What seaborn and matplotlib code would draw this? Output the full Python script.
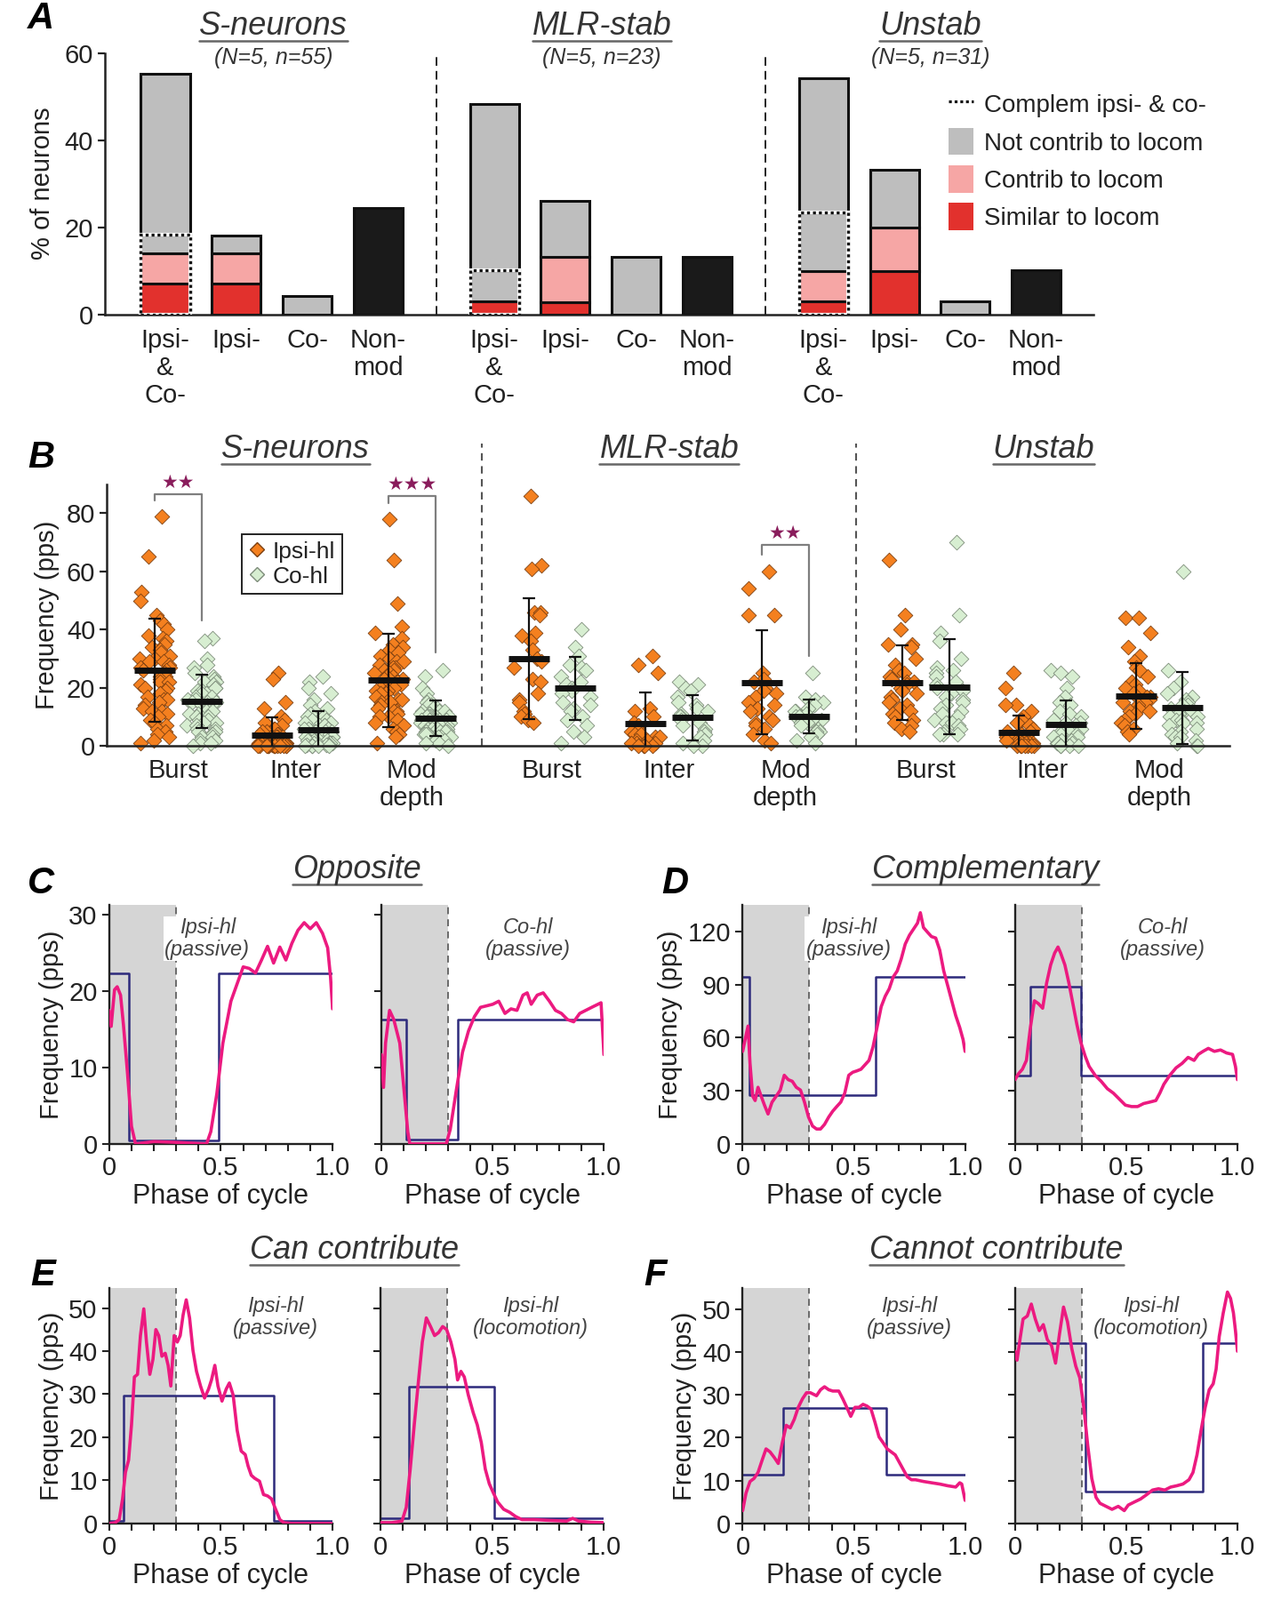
import numpy as np
import pandas as pd
import matplotlib
matplotlib.use("Agg")
import matplotlib.pyplot as plt
from matplotlib.lines import Line2D
from matplotlib.patches import Patch
import seaborn as sns

sns.set_style("ticks")
plt.rcParams["font.family"] = ["Liberation Sans", "DejaVu Sans"]
for k in ["text.color", "axes.labelcolor", "xtick.color", "ytick.color", "axes.edgecolor"]:
    plt.rcParams[k] = "#222222"

# ---------------------------------------------------------------- data A
groups_A = ["S-neurons", "MLR-stab", "Unstab"]
subtitles_A = ["(N=5, n=55)", "(N=5, n=23)", "(N=5, n=31)"]
cats_A = ["Ipsi-\n&\nCo-", "Ipsi-", "Co-", "Non-\nmod"]
similar_A = [7.0, 7.0, 0, 0, 3.0, 2.8, 0, 0, 3.0, 10.0, 0, 0]
contrib_A = [7.0, 7.0, 0, 0, 0, 10.3, 0, 0, 7.0, 10.0, 0, 0]
notcontrib_A = [4.2, 4.0, 4.1, 0, 7.2, 13.0, 13.2, 0, 13.3, 13.2, 3.0, 0]
noncompl_A = [37.1, 0, 0, 0, 38.1, 0, 0, 0, 30.9, 0, 0, 0]
nonmod_A = [0, 0, 0, 24.4, 0, 0, 0, 13.2, 0, 0, 0, 10.2]
legend_A = ["Complem ipsi- & co-", "Not contrib to locom", "Contrib to locom", "Similar to locom"]

# ---------------------------------------------------------------- data B
groups_B = ["S-neurons", "MLR-stab", "Unstab"]
measures_B = ["Burst", "Inter", "Mod\ndepth"]
s_burst_ipsi = [79, 65, 53, 50, 45, 43, 42, 40, 38, 37, 36, 35, 34, 33, 32, 31, 30, 30, 29, 29, 28, 27, 27, 26, 26,
                25, 24, 24, 23, 22, 22, 21, 20, 20, 19, 18, 17, 16, 16, 15, 14, 13, 12, 12, 11, 10, 9, 8, 7, 6, 5, 4, 3, 2, 1]
s_burst_co = [37, 36, 30, 28, 27, 25, 24, 23, 22, 22, 21, 20, 20, 19, 19, 18, 18, 17, 17, 16, 16, 15, 15, 15, 14, 14,
              14, 13, 13, 12, 12, 12, 11, 11, 10, 10, 9, 9, 8, 8, 7, 7, 6, 6, 5, 5, 4, 4, 3, 3, 2, 2, 1, 1, 0]
s_inter_ipsi = [25, 23, 15, 13, 10, 9, 8, 7, 6, 6, 5, 5, 4, 4, 4, 3, 3, 3, 3, 2, 2, 2, 2, 2, 2, 1, 1, 1, 1, 1, 1, 1, 1,
                1, 0.5, 0.5, 0.5, 0.5, 0.4, 0.3, 0.3, 0.2, 0.2, 0.1, 0.1, 0, 0, 0, 0, 0, 0, 0, 0, 0, 0]
s_inter_co = [24, 22, 20, 18, 16, 14, 13, 12, 11, 10, 10, 9, 9, 8, 8, 7, 7, 7, 6, 6, 6, 5, 5, 5, 5, 4, 4, 4, 4, 3, 3, 3,
              3, 3, 2, 2, 2, 2, 2, 2, 1, 1, 1, 1, 1, 1, 1, 0.5, 0.5, 0.3, 0, 0, 0, 0, 0]
s_mod_ipsi = [78, 64, 49, 41, 39, 37, 35, 34, 33, 32, 31, 30, 29, 29, 28, 27, 27, 26, 26, 25, 25, 24, 24, 23, 23, 22,
              22, 21, 21, 20, 20, 19, 19, 18, 18, 17, 16, 16, 15, 15, 14, 13, 12, 12, 11, 10, 10, 9, 8, 7, 6, 5, 4, 3, 1]
s_mod_co = [26, 24, 20, 18, 16, 15, 14, 14, 13, 13, 12, 12, 12, 11, 11, 11, 10, 10, 10, 10, 10, 9, 9, 9, 9, 9, 8, 8,
            8, 8, 8, 7, 7, 7, 7, 7, 6, 6, 6, 6, 5, 5, 5, 5, 4, 4, 4, 3, 3, 3, 2, 2, 1, 1, 0]
m_burst_ipsi = [86, 62, 61, 46, 46, 45, 39, 38, 36, 33, 30, 29, 27, 23, 22, 18, 16, 15, 12, 11, 10, 9, 8]
m_burst_co = [40, 34, 31, 28, 27, 26, 24, 22, 21, 20, 19, 18, 17, 15, 14, 13, 12, 10, 9, 7, 5, 3, 1]
m_inter_ipsi = [31, 28, 25, 13, 12, 10, 8, 7, 6, 5, 4, 4, 3, 3, 2, 2, 1, 1, 1, 0, 0, 0, 0]
m_inter_co = [22, 21, 20, 19, 17, 15, 14, 13, 12, 11, 10, 10, 9, 8, 7, 6, 5, 4, 3, 2, 1, 0, 0]
m_mod_ipsi = [60, 54, 45, 45, 25, 23, 22, 20, 19, 18, 17, 15, 14, 13, 12, 10, 9, 8, 7, 6, 4, 2, 1]
m_mod_co = [25, 17, 16, 15, 14, 13, 12, 12, 11, 10, 10, 9, 9, 8, 8, 7, 6, 5, 5, 4, 3, 2, 1]
u_burst_ipsi = [64, 45, 40, 35, 35, 34, 30, 28, 26, 25, 24, 23, 22, 22, 21, 20, 19, 18, 17, 16, 15, 14, 13, 12, 11,
                10, 9, 8, 7, 6, 5]
u_burst_co = [70, 45, 39, 36, 30, 27, 26, 25, 24, 22, 21, 20, 19, 18, 17, 16, 15, 14, 13, 12, 11, 10, 9, 8, 8, 7, 6,
              5, 4, 4, 4]
u_inter_ipsi = [25, 20, 14, 14, 12, 10, 9, 8, 7, 6, 5, 5, 4, 4, 3, 3, 3, 2, 2, 2, 1, 1, 1, 1, 0, 0, 0, 0, 0, 0, 0]
u_inter_co = [26, 25, 24, 20, 17, 15, 14, 12, 11, 10, 9, 8, 8, 7, 6, 6, 5, 5, 4, 4, 3, 3, 2, 2, 1, 1, 1, 0, 0, 0, 0]
u_mod_ipsi = [44, 44, 39, 34, 31, 29, 27, 26, 24, 22, 21, 20, 19, 18, 17, 17, 16, 15, 15, 14, 13, 12, 12, 11, 10, 9,
              8, 7, 6, 5, 4]
u_mod_co = [60, 26, 22, 20, 18, 17, 16, 15, 14, 14, 13, 12, 12, 11, 11, 10, 10, 9, 9, 8, 8, 7, 6, 5, 4, 3, 3, 2, 1,
            0, 0]
ipsi_B = [[s_burst_ipsi, s_inter_ipsi, s_mod_ipsi], [m_burst_ipsi, m_inter_ipsi, m_mod_ipsi],
          [u_burst_ipsi, u_inter_ipsi, u_mod_ipsi]]
co_B = [[s_burst_co, s_inter_co, s_mod_co], [m_burst_co, m_inter_co, m_mod_co],
        [u_burst_co, u_inter_co, u_mod_co]]
mean_ipsi_B = [[26.1, 3.6, 22.6], [29.9, 7.7, 21.9], [21.7, 4.6, 17.2]]
sd_ipsi_B = [[17.7, 6.2, 16.1], [20.8, 10.7, 18.0], [12.9, 5.9, 11.4]]
mean_co_B = [[15.3, 5.4, 9.5], [19.8, 9.7, 10.0], [20.3, 7.5, 13.1]]
sd_co_B = [[9.2, 6.5, 6.2], [10.8, 7.8, 5.8], [16.4, 8.0, 12.3]]
# (group, measure, bracket top, left leg end, right leg end, stars)
sig_B = [(0, 0, 86.7, 84.5, 43.0, "★★"), (0, 2, 86.0, 83.5, 32.0, "★★★"), (1, 2, 69.2, 65.8, 31.0, "★★")]

# ---------------------------------------------------------------- data C-F
c1_phase = [0, 0.009, 0.024, 0.036, 0.051, 0.064, 0.082, 0.1, 0.118, 0.2, 0.3, 0.436, 0.455, 0.482, 0.509, 0.545,
            0.573, 0.6, 0.627, 0.655, 0.682, 0.709, 0.736, 0.764, 0.791, 0.818, 0.845, 0.873, 0.9, 0.927, 0.955,
            0.978, 0.991, 1.0]
c1_freq = [17.5, 15.4, 20.2, 20.6, 19.5, 15.6, 9.3, 2.3, 0, 0.3, 0.2, 0, 1.6, 6.6, 13.2, 18.7, 21, 23.2, 23, 22.4,
           24.1, 25.9, 23.7, 25.8, 24.1, 26.3, 28, 29, 28.2, 29, 27.6, 25.7, 21.8, 17.7]
c1_step_x, c1_step_y = [0, 0.088, 0.49, 1.0], [22.3, 0.5, 22.3, 22.3]
c2_phase = [0, 0.009, 0.018, 0.036, 0.055, 0.082, 0.1, 0.118, 0.127, 0.291, 0.309, 0.336, 0.364, 0.391, 0.418,
            0.445, 0.473, 0.5, 0.527, 0.555, 0.582, 0.609, 0.636, 0.655, 0.673, 0.7, 0.727, 0.755, 0.782, 0.809,
            0.836, 0.864, 0.891, 0.918, 0.945, 0.973, 0.987, 1.0]
c2_freq = [11.7, 7.4, 13.2, 17.5, 16.3, 13.2, 7.4, 1.6, 0, 0, 1.9, 7, 12, 14.8, 16.7, 17.9, 18.1, 18.3, 18.7, 17.1,
           17.7, 17.5, 19.5, 19.8, 18.3, 19.5, 19.8, 18.7, 17.5, 17.1, 16.3, 16, 17.1, 17.5, 17.9, 18.3, 18.5, 11.7]
c2_step_x, c2_step_y = [0, 0.11, 0.343, 1.0], [16.3, 0.6, 16.3, 16.3]
d1_phase = [0, 0.011, 0.024, 0.033, 0.045, 0.056, 0.069, 0.083, 0.098, 0.114, 0.132, 0.151, 0.169, 0.187, 0.205,
            0.223, 0.241, 0.26, 0.278, 0.296, 0.314, 0.332, 0.35, 0.368, 0.387, 0.405, 0.423, 0.441, 0.459, 0.477,
            0.495, 0.514, 0.532, 0.55, 0.568, 0.586, 0.604, 0.623, 0.641, 0.659, 0.677, 0.695, 0.713, 0.731, 0.75,
            0.768, 0.786, 0.799, 0.813, 0.831, 0.849, 0.868, 0.886, 0.904, 0.922, 0.94, 0.958, 0.976, 0.991, 1.0]
d1_freq = [52.3, 59, 66.6, 45.5, 27, 24.5, 32, 27, 21.9, 16.9, 23.6, 27, 30.4, 38.8, 36.3, 35.4, 32, 30.4, 23.6, 15.2,
           10.1, 8.4, 8.4, 11, 15.2, 18.5, 21.1, 23.6, 28.7, 38.8, 40.5, 41.3, 42.2, 44.7, 47.2, 54.8, 65.8, 77.6,
           83.5, 87.7, 94.4, 97.8, 104.6, 113, 118, 121.4, 124.8, 130.7, 122.3, 119.7, 117.2, 116.4, 109.6, 97.8,
           89.4, 80.9, 72.5, 65.8, 59, 52.3]
d1_step_x, d1_step_y = [0, 0.03, 0.597, 1.0], [94.5, 27.5, 94.5, 94.5]
d2_phase = [0, 0.015, 0.033, 0.051, 0.069, 0.087, 0.105, 0.124, 0.142, 0.16, 0.178, 0.193, 0.205, 0.224, 0.242,
            0.26, 0.278, 0.296, 0.315, 0.333, 0.36, 0.387, 0.415, 0.442, 0.469, 0.496, 0.524, 0.551, 0.578, 0.605,
            0.633, 0.651, 0.669, 0.696, 0.724, 0.751, 0.778, 0.805, 0.824, 0.845, 0.869, 0.896, 0.924, 0.951, 0.978,
            0.991, 1.0]
d2_freq = [36.3, 39.6, 42.2, 47.2, 65.8, 80.9, 79.3, 76.7, 91, 101.2, 107.9, 111.3, 107.9, 101.2, 91, 79.3, 67.5,
           57.3, 49.7, 43.8, 38.8, 35.4, 31.2, 28.7, 25.3, 21.9, 21.1, 21.1, 22.8, 23.6, 24.5, 28.7, 33.7, 38.8, 43,
           45.5, 48.9, 47.2, 50.6, 52.3, 54, 52.3, 53.1, 51.4, 50.6, 43.8, 36.3]
d2_step_x, d2_step_y = [0, 0.07, 0.296, 1.0], [38.5, 89, 38.5, 38.5]
e1_phase = [0, 0.027, 0.045, 0.06, 0.073, 0.087, 0.1, 0.113, 0.127, 0.14, 0.155, 0.167, 0.182, 0.196, 0.209, 0.222,
            0.236, 0.251, 0.264, 0.276, 0.291, 0.305, 0.318, 0.331, 0.345, 0.36, 0.375, 0.391, 0.409, 0.427, 0.445,
            0.458, 0.473, 0.487, 0.505, 0.524, 0.538, 0.555, 0.573, 0.591, 0.609, 0.622, 0.636, 0.651, 0.673, 0.691,
            0.709, 0.727, 0.742, 0.764, 0.782, 0.818, 1.0]
e1_freq = [0, 0.2, 0.9, 5.7, 11.9, 14.7, 22.9, 34, 34.6, 43.6, 49.8, 42.1, 34.6, 38.1, 45, 43.6, 38.8, 39.5, 36.7,
           31.9, 43.6, 42.1, 43.6, 48.4, 51.9, 47.7, 40.2, 35.3, 31.9, 29.1, 31.2, 33.3, 36.7, 31.9, 28.4, 31.2, 32.6,
           29.8, 21.6, 16.8, 16, 13.3, 11.2, 10.5, 9.8, 6.7, 6.4, 5.7, 3.7, 0.9, 0.2, 0, 0]
e1_step_x, e1_step_y = [0, 0.066, 0.736, 1.0], [0.5, 29.7, 0.5, 0.5]
e2_phase = [0, 0.051, 0.096, 0.115, 0.133, 0.151, 0.169, 0.187, 0.205, 0.224, 0.242, 0.26, 0.278, 0.296, 0.315,
            0.333, 0.345, 0.36, 0.375, 0.393, 0.415, 0.433, 0.451, 0.469, 0.487, 0.505, 0.524, 0.551, 0.578, 0.605,
            0.633, 0.687, 0.76, 0.833, 0.86, 0.887, 0.942, 1.0]
e2_freq = [0.2, 0.2, 0.55, 3.7, 12.6, 22.9, 32.6, 42.1, 47.7, 45.7, 43.6, 44.3, 45.7, 45, 42.1, 38.1, 33.3, 35.3, 34,
           29.8, 25.7, 22.9, 18.8, 12.6, 9.2, 7.1, 5, 3.3, 2.6, 1.6, 0.9, 0.9, 0.7, 0.55, 1.2, 0.55, 0.3, 0.2]
e2_step_x, e2_step_y = [0, 0.129, 0.509, 1.0], [1.2, 31.7, 1.2, 1.2]
f1_phase = [0, 0.015, 0.033, 0.051, 0.069, 0.087, 0.105, 0.123, 0.142, 0.16, 0.178, 0.196, 0.214, 0.232, 0.25,
            0.269, 0.287, 0.305, 0.332, 0.35, 0.368, 0.387, 0.405, 0.432, 0.45, 0.468, 0.486, 0.505, 0.523, 0.541,
            0.559, 0.577, 0.595, 0.613, 0.632, 0.65, 0.668, 0.686, 0.704, 0.722, 0.74, 0.759, 0.777, 0.813, 0.849,
            0.886, 0.922, 0.958, 0.976, 0.985, 0.995, 1.0]
f1_freq = [3, 7.1, 9.8, 10.5, 11.9, 14.7, 17.4, 16.7, 15.4, 14, 18.8, 22.9, 22.3, 24.3, 27.1, 29.1, 30.5, 30.5, 29.8,
           31.2, 31.9, 31.2, 30.9, 30.9, 29.1, 27.1, 25, 27.1, 27.1, 27.8, 27.4, 26.7, 23.6, 20.2, 18.8, 17.4, 16.7,
           16, 14.3, 12.6, 10.9, 10.2, 10.2, 9.8, 9.5, 9.2, 8.8, 8.5, 9.5, 9.2, 6.7, 5.4]
f1_step_x, f1_step_y = [0, 0.183, 0.644, 1.0], [11.3, 27, 11.3, 11.3]
f2_phase = [0, 0.009, 0.024, 0.036, 0.055, 0.073, 0.091, 0.109, 0.127, 0.145, 0.164, 0.182, 0.2, 0.218, 0.236,
            0.255, 0.273, 0.291, 0.309, 0.327, 0.345, 0.364, 0.382, 0.409, 0.436, 0.464, 0.491, 0.509, 0.536, 0.564,
            0.591, 0.618, 0.645, 0.673, 0.7, 0.727, 0.755, 0.782, 0.8, 0.818, 0.836, 0.855, 0.873, 0.891, 0.904,
            0.918, 0.936, 0.955, 0.969, 0.982, 0.991, 1.0]
f2_freq = [40.2, 38.1, 43.6, 47.7, 48.4, 51.2, 47.7, 45, 46.4, 42.9, 41.5, 37.4, 44.3, 50.5, 47, 40.8, 36.7, 34, 27.1,
           18.1, 10.5, 6.1, 4.7, 4, 3.3, 4, 3, 4.3, 5, 5.7, 6.7, 7.8, 8.1, 7.8, 8.5, 8.8, 9.2, 10.2, 11.9, 16, 21.6,
           27.1, 31.2, 32.6, 36, 43.6, 49.1, 54, 52.5, 49.1, 45, 40.2]
f2_step_x, f2_step_y = [0, 0.318, 0.845, 1.0], [42, 7.5, 42, 42]

# ---------------------------------------------------------------- style
GRAY, PINK, RED, BLACK = "#bebebe", "#f6a6a5", "#e2312d", "#1a1a1a"
ORANGE, ORANGE_E = "#f4801f", "#7c3f10"
GREEN, GREEN_E = "#d7eed1", "#7d8c7a"
TRACE, NAVY, SHADE = "#ec1a80", "#2d2a7c", "#d5d5d5"
STAR = "#8a1d5c"
FS = 21

W, H = 1240.0, 1568.0
fig = plt.figure(figsize=(14.23, 18.0), dpi=100)


def add_ax(left, right, top, bottom):
    return fig.add_axes([left / W, 1 - bottom / H, (right - left) / W, (bottom - top) / H])


def ftext(x, y, s, **kw):
    return fig.text(x / W, 1 - y / H, s, **kw)


underlined = []


def title(x, y, s, size=26):
    t = ftext(x, y, s, ha="center", va="center", fontsize=size, style="italic", color="#333333")
    underlined.append(t)
    return t


def letter(x, y, s):
    ftext(x, y, s, ha="center", va="center", fontsize=30, fontweight="bold", style="italic", color="black")


# ================================================================= Panel A
axA = add_ax(103, 1072, 52, 308)
GSTEP_A, BW_A = 4.64, 0.69
pos_A = [c + g * GSTEP_A for g in range(3) for c in range(4)]
layers = [(similar_A, RED), (contrib_A, PINK), (notcontrib_A, GRAY), (noncompl_A, GRAY), (nonmod_A, BLACK)]
for i, pos in enumerate(pos_A):
    bottom = 0.0
    for vals, col in layers:
        h = vals[i]
        if h > 0:
            sns.barplot(x=[pos], y=[h], bottom=bottom, native_scale=True, orient="x", width=BW_A, color=col,
                        saturation=1, edgecolor="#111111", linewidth=2.2, errorbar=None, ax=axA, zorder=3)
            bottom += h
    if i % 4 == 0:
        hc = similar_A[i] + contrib_A[i] + notcontrib_A[i]
        sns.barplot(x=[pos], y=[hc], native_scale=True, orient="x", width=BW_A, fill=False, color="white",
                    linewidth=3.0, errorbar=None, ax=axA, zorder=4)
        sns.barplot(x=[pos], y=[hc], native_scale=True, orient="x", width=BW_A, fill=False, color="#111111",
                    linewidth=2.4, linestyle=(0, (1, 1)), errorbar=None, ax=axA, zorder=5)
axA.set_xlim(-0.85, 13.09)
axA.set_ylim(0, 60)
axA.set_yticks([0, 20, 40, 60])
axA.set_xticks(pos_A)
axA.set_xticklabels(cats_A * 3, fontsize=FS, linespacing=1.15)
axA.tick_params(axis="x", length=0, pad=11)
axA.tick_params(axis="y", labelsize=FS, length=6, width=1.6, direction="out")
axA.set_ylabel("% of neurons", fontsize=FS, labelpad=8)
axA.set_xlabel("")
sns.despine(ax=axA)
for sp in axA.spines.values():
    sp.set_linewidth(1.8)
for g in range(2):
    xd = 3 + (GSTEP_A - 3) / 2 + g * GSTEP_A
    axA.plot([xd, xd], [0, 60], ls=(0, (5, 3)), color="#222222", lw=1.4, zorder=1)
handles_A = [Line2D([0], [0], color="#111111", ls=(0, (1, 1)), lw=2.3),
             Patch(facecolor=GRAY, edgecolor="none"), Patch(facecolor=PINK, edgecolor="none"),
             Patch(facecolor=RED, edgecolor="none")]
axA.legend(handles_A, legend_A, loc="upper left", bbox_to_anchor=(0.853, 0.856), frameon=False, fontsize=20,
           handlelength=1.0, handleheight=1.3, handletextpad=0.45, labelspacing=0.42, borderaxespad=0,
           borderpad=0)
for g in range(3):
    title([268, 590, 912][g], 26, groups_A[g])
    ftext([268, 590, 912][g], 57, subtitles_A[g], ha="center", va="center", fontsize=18, style="italic",
          color="#333333")
letter(40, 18, "A")

# ================================================================= Panel B
axB = add_ax(105, 1205, 474.5, 731)
GSTEP_B, OFF_B = 3.2, 0.2
rows = []
for g in range(3):
    for m in range(3):
        for v in ipsi_B[g][m]:
            rows.append((g * GSTEP_B + m - OFF_B, v, "Ipsi-hl"))
        for v in co_B[g][m]:
            rows.append((g * GSTEP_B + m + OFF_B, v, "Co-hl"))
dfB = pd.DataFrame(rows, columns=["pos", "freq", "side"])
sns.stripplot(data=dfB[dfB.side == "Ipsi-hl"], x="pos", y="freq", native_scale=True, orient="x", jitter=0.13,
              marker="D", size=8.5, color=ORANGE, edgecolor=ORANGE_E, linewidth=0.6, ax=axB, zorder=2,
              clip_on=False, legend=False)
sns.stripplot(data=dfB[dfB.side == "Co-hl"], x="pos", y="freq", native_scale=True, orient="x", jitter=0.13,
              marker="D", size=8.5, color=GREEN, edgecolor=GREEN_E, linewidth=0.6, ax=axB, zorder=2,
              clip_on=False, legend=False)
pos_i = [g * GSTEP_B + m - OFF_B for g in range(3) for m in range(3)]
pos_c = [g * GSTEP_B + m + OFF_B for g in range(3) for m in range(3)]
mi = [v for row in mean_ipsi_B for v in row]
si = [v for row in sd_ipsi_B for v in row]
mc = [v for row in mean_co_B for v in row]
sc = [v for row in sd_co_B for v in row]
for p, mu, sd in ((pos_i, mi, si), (pos_c, mc, sc)):
    axB.errorbar(p, mu, yerr=sd, fmt="none", ecolor="#111111", elinewidth=1.6, capsize=5, capthick=1.6, zorder=4)
    axB.scatter(p, mu, marker="_", s=1100, linewidths=5, color="#111111", zorder=5)
for g, m, top, lleg, rleg, stars in sig_B:
    xl, xr = g * GSTEP_B + m - OFF_B, g * GSTEP_B + m + OFF_B
    axB.plot([xl, xl, xr, xr], [lleg, top, top, rleg], color="#7f7f7f", lw=1.6, clip_on=False, zorder=3)
    axB.text((xl + xr) / 2, top + 0.8, stars, ha="center", va="bottom", fontsize=15, color=STAR,
             family=["DejaVu Sans"], clip_on=False)
axB.set_xlim(-0.611, 9.0)
axB.set_ylim(0, 90)
axB.set_yticks([0, 20, 40, 60, 80])
axB.set_xticks([g * GSTEP_B + m for g in range(3) for m in range(3)])
axB.set_xticklabels(measures_B * 3, fontsize=FS, linespacing=1.15)
axB.tick_params(axis="x", length=0, pad=10)
axB.tick_params(axis="y", labelsize=FS, length=6, width=1.6)
axB.set_ylabel("Frequency (pps)", fontsize=FS, labelpad=6)
axB.set_xlabel("")
sns.despine(ax=axB)
for sp in axB.spines.values():
    sp.set_linewidth(1.8)
for g in range(2):
    xd = g * GSTEP_B + 2 + (GSTEP_B - 2) / 2
    axB.plot([xd, xd], [0, 104], ls=(0, (4, 3)), color="#555555", lw=1.5, clip_on=False, zorder=1)
handles_B = [Line2D([0], [0], marker="D", color="none", markerfacecolor=ORANGE, markeredgecolor=ORANGE_E,
                    markersize=8),
             Line2D([0], [0], marker="D", color="none", markerfacecolor=GREEN, markeredgecolor=GREEN_E,
                    markersize=8)]
legB = axB.legend(handles_B, ["Ipsi-hl", "Co-hl"], loc="upper left", bbox_to_anchor=(0.12, 0.81), fontsize=19,
                  frameon=True, fancybox=False, edgecolor="#222222", framealpha=1, handlelength=0.7,
                  handletextpad=0.3, borderpad=0.3, labelspacing=0.15, borderaxespad=0)
legB.get_frame().set_linewidth(1.4)
for g in range(3):
    title([290, 656, 1023][g], 440, groups_B[g])
letter(40, 449, "B")

# ================================================================= Panels C-F


def trace_panel(box, ymax, yticks, phase, freq, sx, sy, label, lx, ly, left):
    ax = add_ax(*box)
    ax.axvspan(0, 0.3, color=SHADE, lw=0, zorder=0)
    ax.axvline(0.3, color="#6a6a6a", ls=(0, (4, 3)), lw=1.4, zorder=1)
    sns.lineplot(x=sx, y=sy, drawstyle="steps-post", color=NAVY, linewidth=1.8, ax=ax, zorder=2)
    sns.lineplot(x=phase, y=freq, color=TRACE, linewidth=2.6, ax=ax, zorder=3)
    ax.set_xlim(0, 1)
    ax.set_ylim(0, ymax)
    ax.set_xticks([0, 0.5, 1.0])
    ax.set_xticklabels(["0", "0.5", "1.0"])
    ax.set_xticks([i / 10 for i in range(11)], minor=True)
    ax.set_yticks(yticks)
    ax.tick_params(which="both", length=6, width=1.5, labelsize=FS, direction="out")
    ax.set_xlabel("Phase of cycle", fontsize=22, labelpad=2)
    if left:
        ax.set_ylabel("Frequency (pps)", fontsize=FS, labelpad=4)
    else:
        ax.set_ylabel("")
        ax.tick_params(axis="y", labelleft=False)
    sns.despine(ax=ax)
    for sp in ax.spines.values():
        sp.set_linewidth(1.7)
    ax.text(lx, ly, label, transform=ax.transAxes, ha="center", va="center", fontsize=17, style="italic",
            color="#444444", linespacing=1.1, zorder=4,
            bbox=dict(facecolor="white", edgecolor="none", pad=1.0))
    return ax


trace_panel((107, 326, 887, 1121), 31.3, [0, 10, 20, 30], c1_phase, c1_freq, c1_step_x, c1_step_y,
            "Ipsi-hl\n(passive)", 0.44, 0.86, True)
trace_panel((374, 592, 887, 1121), 31.3, [0, 10, 20, 30], c2_phase, c2_freq, c2_step_x, c2_step_y,
            "Co-hl\n(passive)", 0.66, 0.86, False)
trace_panel((728, 946, 887, 1121), 135, [0, 30, 60, 90, 120], d1_phase, d1_freq, d1_step_x, d1_step_y,
            "Ipsi-hl\n(passive)", 0.477, 0.86, True)
trace_panel((995, 1213, 887, 1121), 135, [0, 30, 60, 90, 120], d2_phase, d2_freq, d2_step_x, d2_step_y,
            "Co-hl\n(passive)", 0.665, 0.86, False)
trace_panel((107, 326, 1262, 1493), 54.7, [0, 10, 20, 30, 40, 50], e1_phase, e1_freq, e1_step_x, e1_step_y,
            "Ipsi-hl\n(passive)", 0.745, 0.876, True)
trace_panel((373, 592, 1262, 1493), 54.7, [0, 10, 20, 30, 40, 50], e2_phase, e2_freq, e2_step_x, e2_step_y,
            "Ipsi-hl\n(locomotion)", 0.67, 0.876, False)
trace_panel((728, 946, 1262, 1493), 55, [0, 10, 20, 30, 40, 50], f1_phase, f1_freq, f1_step_x, f1_step_y,
            "Ipsi-hl\n(passive)", 0.75, 0.876, True)
trace_panel((995, 1213, 1262, 1493), 55, [0, 10, 20, 30, 40, 50], f2_phase, f2_freq, f2_step_x, f2_step_y,
            "Ipsi-hl\n(locomotion)", 0.61, 0.876, False)

title(350, 852, "Opposite")
title(966, 852, "Complementary")
title(347, 1225, "Can contribute")
title(977, 1225, "Cannot contribute")
letter(40, 866, "C")
letter(662, 866, "D")
letter(42, 1250, "E")
letter(642, 1250, "F")

# underline the titles
renderer = fig.canvas.get_renderer()
for t in underlined:
    bb = t.get_window_extent(renderer=renderer)
    y = (bb.y0 + 1) / fig.bbox.height
    fig.add_artist(Line2D([bb.x0 / fig.bbox.width, bb.x1 / fig.bbox.width], [y, y],
                          transform=fig.transFigure, color="#666666", lw=1.8))

fig.savefig("out.png", dpi=100, facecolor="white")
